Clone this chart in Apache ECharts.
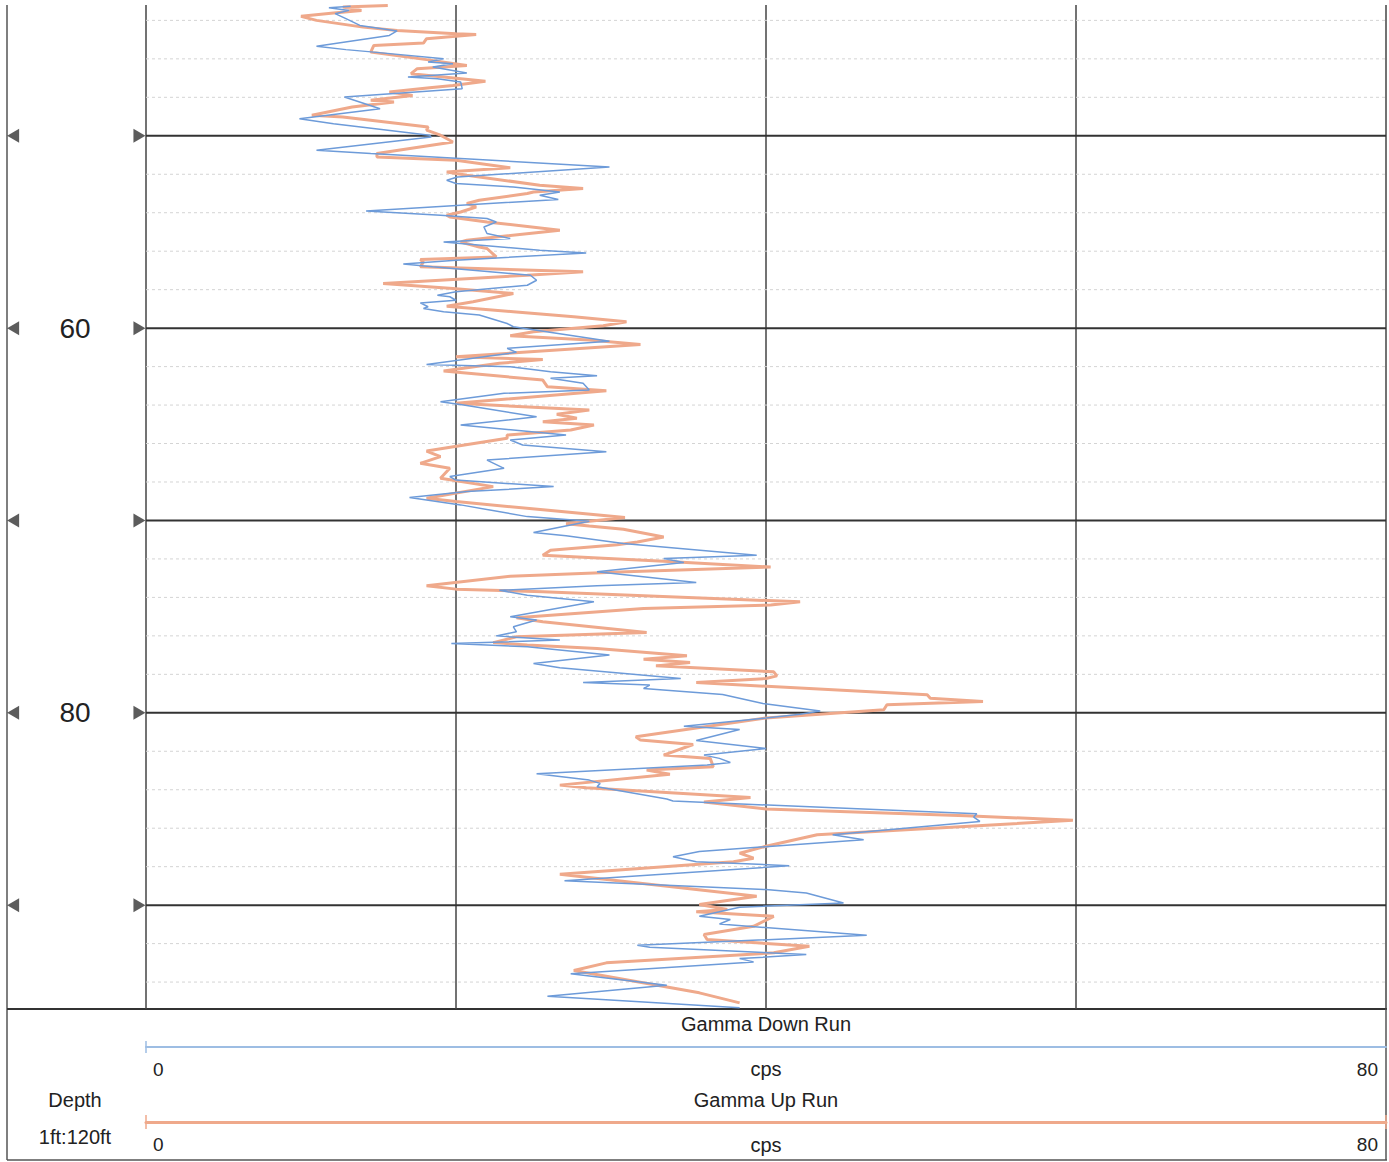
<!DOCTYPE html>
<html>
<head>
<meta charset="utf-8">
<script src="https://cdn.jsdelivr.net/npm/echarts@6/dist/echarts.min.js"></script>
<style>
html,body{margin:0;padding:0;background:#fff;}
#chart{width:1389px;height:1162px;}
</style>
</head>
<body>
<div id="chart"></div>
<script>
// ---------- DATA ----------
const downRunDepth = [43.27,43.34,43.48,43.65,43.91,44.26,44.55,44.78,45.35,45.52,45.65,45.99,46.16,46.25,46.42,46.74,46.94,47.03,47.20,47.55,47.98,48.59,49.11,49.37,49.97,50.06,50.75,50.92,51.62,52.14,52.31,52.48,52.66,52.92,53.09,53.31,53.91,54.13,54.30,54.48,54.74,55.08,55.34,55.52,55.60,55.95,56.09,56.47,56.67,56.81,57.25,57.51,57.77,58.11,58.29,58.37,58.55,58.69,58.89,58.98,59.15,59.32,59.76,59.93,60.68,61.05,61.26,61.89,62.01,62.27,62.48,62.61,62.87,63.22,63.39,63.83,64.00,64.61,65.04,65.56,65.82,66.08,66.43,66.86,67.29,67.72,67.90,68.24,68.50,68.81,69.19,69.80,70.04,70.63,70.80,71.20,71.81,71.98,72.19,72.67,73.23,73.40,73.63,73.89,74.23,74.49,75.01,75.18,75.53,75.79,76.00,76.22,76.40,76.57,77.00,77.44,77.66,78.22,78.43,78.56,78.74,79.05,79.52,79.91,80.08,80.27,80.70,80.87,81.44,81.86,82.20,82.37,82.58,82.72,83.17,83.50,83.67,83.84,84.48,84.59,85.25,85.42,85.65,86.34,86.60,87.21,87.48,87.74,87.95,88.73,89.19,89.37,89.89,90.11,90.58,90.75,90.98,91.57,92.09,92.19,92.57,92.78,92.95,93.57,94.17,94.74,95.34];
const downRunCps = [13.2,11.8,13.1,12.2,12.9,13.8,16.2,15.7,11.0,12.9,14.7,19.2,18.2,19.8,18.5,20.7,16.9,18.8,20.3,20.4,12.8,15.1,9.9,12.1,18.3,18.4,11.0,14.5,29.9,20.1,19.4,20.0,23.7,26.7,25.4,26.6,14.2,19.0,22.0,22.6,21.8,22.0,23.5,19.2,20.3,25.4,28.4,20.0,16.6,18.5,24.8,25.2,24.6,20.0,18.8,19.6,20.0,17.7,18.2,17.9,19.2,21.5,23.3,23.7,29.9,23.3,23.9,18.1,23.5,26.1,29.1,26.1,28.2,28.6,23.1,19.0,20.5,25.2,20.3,27.1,23.5,24.3,29.7,22.0,23.1,19.6,20.0,26.3,20.7,17.0,20.3,24.6,28.6,25.0,27.1,30.8,39.4,33.4,34.7,29.1,35.5,29.1,22.8,24.6,28.9,27.1,23.5,25.2,23.7,23.9,22.6,26.7,19.7,24.6,29.9,25.0,26.7,34.5,28.2,32.5,32.1,37.2,39.8,43.5,42.2,40.0,34.7,38.3,35.5,40.0,36.0,37.0,37.7,36.2,25.2,28.6,29.3,29.1,33.6,34.0,53.6,53.4,53.8,44.3,46.3,35.7,34.0,35.5,41.5,27.0,40.0,42.6,45.0,38.3,35.7,37.7,37.0,46.5,31.7,32.5,42.6,38.3,39.2,27.4,33.6,25.9,38.3];

const upRunDepth = [43.22,43.31,43.48,43.62,43.79,44.00,44.35,44.52,44.69,44.74,44.95,45.18,45.30,45.65,46.04,46.34,46.51,46.77,46.94,47.17,47.38,47.50,47.72,47.90,48.15,48.24,48.50,48.93,49.02,49.54,49.71,49.97,50.32,50.92,51.10,51.27,51.66,51.88,52.05,52.57,52.74,52.92,53.00,53.35,53.52,53.70,53.96,54.13,54.22,54.48,54.91,55.43,55.52,55.78,55.86,56.30,56.43,56.56,56.81,57.07,57.25,57.68,57.94,58.20,58.63,58.86,59.15,59.41,59.67,59.88,60.19,60.40,60.62,60.85,61.23,61.49,61.63,61.83,62.23,62.70,63.05,63.26,63.91,64.26,64.48,64.69,64.87,65.04,65.30,65.56,65.73,66.39,66.68,67.03,67.29,67.81,68.24,68.85,69.02,69.84,70.17,70.29,70.46,70.86,71.12,71.26,71.55,71.81,72.12,72.42,72.67,72.90,73.40,73.57,73.71,74.23,74.40,74.58,75.06,75.27,75.83,76.05,76.35,76.48,76.66,77.04,77.21,77.39,77.56,77.87,78.08,78.22,78.43,79.06,79.24,79.41,79.58,79.84,80.27,81.25,81.42,81.65,82.20,82.37,82.80,82.98,83.20,83.76,83.90,84.40,84.64,85.00,85.35,85.59,86.34,86.94,87.30,87.56,87.74,88.40,89.54,89.97,90.23,90.35,90.58,91.10,91.53,91.79,92.14,92.48,93.00,93.40,94.13,94.56,95.08];
const upRunCps = [15.6,12.7,13.9,12.1,10.0,11.0,14.0,16.2,20.0,21.3,18.1,17.9,14.7,14.5,18.1,20.7,17.5,17.1,19.2,21.9,19.8,18.3,15.7,17.2,14.5,16.0,13.3,10.7,12.7,18.2,18.1,19.0,19.8,14.9,14.9,20.0,23.5,19.4,20.7,25.4,28.2,25.0,24.6,21.5,20.7,21.3,20.3,19.4,19.6,22.0,26.7,20.7,20.3,21.5,22.0,22.6,17.7,17.9,17.7,28.2,24.6,15.3,19.8,23.7,21.1,19.4,23.7,27.6,31.0,29.5,25.0,23.5,28.6,31.9,24.8,20.0,25.6,22.8,19.2,25.6,25.9,29.7,20.0,28.6,26.5,27.8,25.6,28.9,27.4,23.3,23.3,18.1,19.0,17.7,19.6,19.0,22.4,18.1,20.0,30.9,27.1,28.6,30.8,33.4,31.7,30.4,26.1,25.6,33.4,40.3,31.0,23.5,18.1,20.0,25.6,42.2,40.3,32.1,23.9,25.6,32.3,23.9,22.4,24.6,29.1,34.9,32.1,35.1,32.9,40.5,40.7,40.0,35.5,50.4,50.6,54.0,47.8,47.6,40.0,31.6,31.9,35.3,33.4,36.4,36.6,32.3,33.8,26.7,28.4,39.0,36.0,40.0,52.9,59.8,43.3,40.0,38.3,39.2,37.9,26.7,39.4,35.7,37.5,35.5,40.5,39.2,36.0,36.2,42.8,40.5,29.7,27.6,32.7,35.7,38.3];

const majorDepths = [50, 60, 70, 80, 90];
const minorDepths = [44, 46, 48, 52, 54, 56, 58, 62, 64, 66, 68, 72, 74, 76, 78, 82, 84, 86, 88, 92, 94];
const depthLabelValues = [60, 80];
const cpsLabelValues = [0, 80];
const depthRange = [43.2, 95.4];
const cpsRange = [0, 80];
const unitText = 'cps';

// ---------- CHART ----------
const FONT = '"Liberation Sans", Arial, sans-serif';
const BLUE = '#6d9bd9';
const ORANGE = '#efa98b';
const DARK = '#333';

const chart = echarts.init(document.getElementById('chart'), null, { renderer: 'svg' });

function hLines(style) {
  return function (params, api) {
    const d = api.value(1);
    const p1 = api.coord([cpsRange[0], d]);
    const p2 = api.coord([cpsRange[1], d]);
    return { type: 'line', shape: { x1: p1[0], y1: p1[1], x2: p2[0], y2: p2[1] }, style: style, silent: true };
  };
}

const axisLabelStyle = {
  customValues: cpsLabelValues, fontSize: 19, color: '#222', margin: 13, fontFamily: FONT,
  alignMinLabel: 'left', alignMaxLabel: 'right', padding: [0, 8, 0, 7]
};

function centerText(text, x, y) {
  return { type: 'text', x: x, y: y, silent: true,
           style: { text: text, font: '20px ' + FONT, fill: '#222', textAlign: 'center', textVerticalAlign: 'middle' } };
}

const option = {
  animation: false,
  backgroundColor: '#fff',
  textStyle: { fontFamily: FONT },
  grid: [
    { left: 146, right: 3, top: 5, bottom: 153, containLabel: false, outerBoundsMode: 'none' },
    { left: 0, width: 146, top: 5, bottom: 153, containLabel: false, outerBoundsMode: 'none' }
  ],
  xAxis: [
    {
      gridIndex: 0, type: 'value', min: cpsRange[0], max: cpsRange[1], interval: 20,
      position: 'bottom', offset: 38,
      axisLine: { show: true, lineStyle: { color: '#9dbde3', width: 2 } },
      axisTick: { show: false },
      axisLabel: axisLabelStyle,
      splitLine: { show: true, lineStyle: { color: '#444', width: 1.5 } }
    },
    {
      gridIndex: 0, type: 'value', min: cpsRange[0], max: cpsRange[1], interval: 20,
      position: 'bottom', offset: 113,
      axisLine: { show: true, lineStyle: { color: ORANGE, width: 3 } },
      axisTick: { show: false },
      axisLabel: axisLabelStyle,
      splitLine: { show: false }
    },
    { gridIndex: 1, type: 'value', min: 0, max: 1, show: false }
  ],
  yAxis: [
    {
      gridIndex: 0, type: 'value', inverse: true, min: depthRange[0], max: depthRange[1],
      axisLine: { show: false }, axisTick: { show: false }, splitLine: { show: false },
      axisLabel: { customValues: depthLabelValues, fontSize: 28, color: '#222', margin: 71, align: 'center', fontFamily: FONT }
    },
    { gridIndex: 1, type: 'value', inverse: true, min: depthRange[0], max: depthRange[1], show: false }
  ],
  series: [
    {
      type: 'custom', name: 'minor', xAxisIndex: 0, yAxisIndex: 0, z: 1, silent: true,
      data: minorDepths.map(d => [cpsRange[0], d]),
      renderItem: hLines({ stroke: '#d4d4d4', lineWidth: 1, lineDash: [3, 3] })
    },
    {
      type: 'custom', name: 'major', xAxisIndex: 0, yAxisIndex: 0, z: 2, silent: true,
      data: majorDepths.map(d => [cpsRange[0], d]),
      renderItem: hLines({ stroke: DARK, lineWidth: 2 })
    },
    {
      type: 'line', name: 'Gamma Up Run', xAxisIndex: 1, yAxisIndex: 0, z: 3,
      data: upRunCps.map((v, i) => [v, upRunDepth[i]]),
      showSymbol: false, symbol: 'none', silent: true,
      lineStyle: { color: ORANGE, width: 3 }
    },
    {
      type: 'line', name: 'Gamma Down Run', xAxisIndex: 0, yAxisIndex: 0, z: 4,
      data: downRunCps.map((v, i) => [v, downRunDepth[i]]),
      showSymbol: false, symbol: 'none', silent: true,
      lineStyle: { color: BLUE, width: 1.5 }
    },
    {
      type: 'scatter', name: 'depthMarkLeft', xAxisIndex: 2, yAxisIndex: 1, silent: true,
      data: majorDepths.map(d => [0.09, d]),
      symbol: 'triangle', symbolRotate: 90, symbolSize: [14, 12],
      itemStyle: { color: DARK }
    },
    {
      type: 'scatter', name: 'depthMarkRight', xAxisIndex: 2, yAxisIndex: 1, silent: true,
      data: majorDepths.map(d => [0.955, d]),
      symbol: 'triangle', symbolRotate: -90, symbolSize: [14, 12],
      itemStyle: { color: DARK }
    }
  ],
  graphic: [
    { type: 'line', shape: { x1: 7, y1: 5, x2: 7, y2: 1160 }, style: { stroke: '#555', lineWidth: 1.5 }, silent: true },
    { type: 'line', shape: { x1: 7, y1: 1009, x2: 1387, y2: 1009 }, style: { stroke: DARK, lineWidth: 2 }, silent: true },
    { type: 'line', shape: { x1: 7, y1: 1160, x2: 1387, y2: 1160 }, style: { stroke: '#555', lineWidth: 1.5 }, silent: true },
    { type: 'line', shape: { x1: 1386, y1: 1009, x2: 1386, y2: 1160 }, style: { stroke: '#555', lineWidth: 1.5 }, silent: true },
    { type: 'line', shape: { x1: 146, y1: 1041, x2: 146, y2: 1053 }, style: { stroke: '#9dbde3', lineWidth: 1.5 }, silent: true },
    { type: 'line', shape: { x1: 146, y1: 1115, x2: 146, y2: 1129 }, style: { stroke: ORANGE, lineWidth: 1.5 }, silent: true },
    { type: 'line', shape: { x1: 1386, y1: 1115, x2: 1386, y2: 1129 }, style: { stroke: ORANGE, lineWidth: 1.5 }, silent: true },
    centerText('Gamma Down Run', 766, 1024),
    centerText(unitText, 766, 1069),
    centerText('Gamma Up Run', 766, 1100),
    centerText(unitText, 766, 1145),
    centerText('Depth', 75, 1100),
    centerText('1ft:120ft', 75, 1137)
  ]
};

chart.setOption(option);
</script>
</body>
</html>
